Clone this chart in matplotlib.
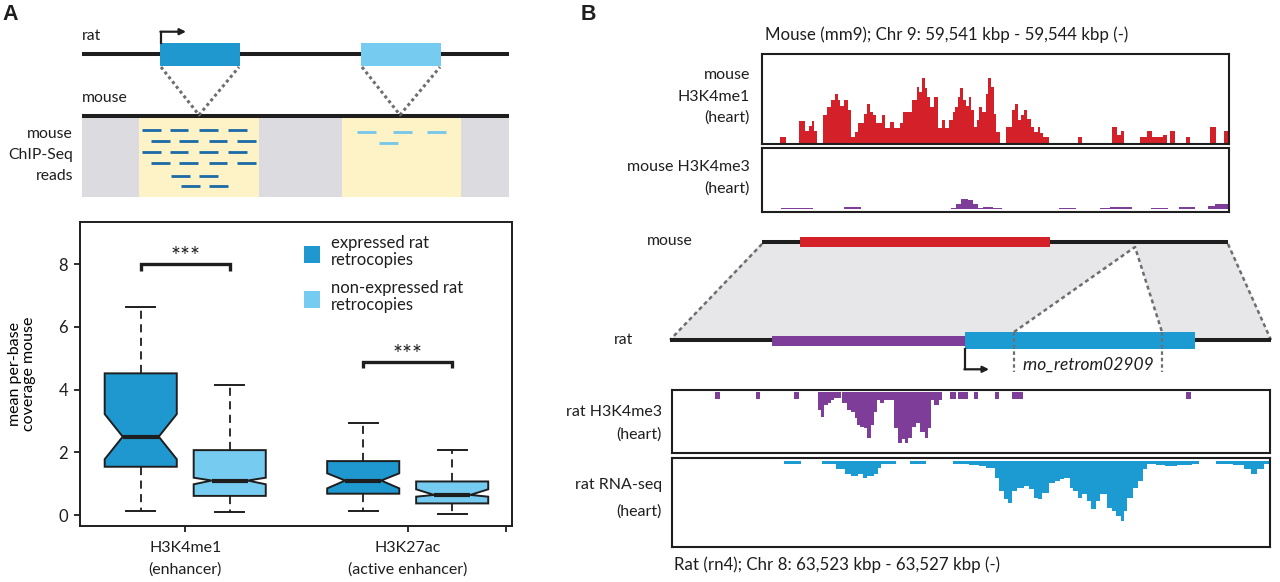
import matplotlib.pyplot as plt
from matplotlib.patches import Rectangle, Polygon

plt.rcParams['font.family'] = ['Lato', 'DejaVu Sans']
plt.rcParams['text.color'] = '#1e1e1e'

W, H = 1280, 582

# ---------- panel A: box plot values (mean per-base coverage mouse) ----------
tick_labels = ['H3K4me1\n(enhancer)', 'H3K27ac\n(active enhancer)']
legend_labels = ['expressed rat\nretrocopies', 'non-expressed rat\nretrocopies']
med = [2.50, 1.10, 1.10, 0.64]
q1 = [1.54, 0.61, 0.68, 0.37]
q3 = [4.52, 2.07, 1.72, 1.07]
whis_lo = [0.14, 0.085, 0.12, 0.04]
whis_hi = [6.65, 4.15, 2.95, 2.07]
ci_lo = [1.78, 0.98, 0.85, 0.585]
ci_hi = [3.22, 1.19, 1.33, 0.82]
signif = ['***', '***']

# ---------- panel A: cartoon (rat retrocopies / mouse ChIP-seq reads) ----------
retro_left = [160, 361]
read_rows_dark = [[142.3, 169.5, 198.9, 228.0],
                  [151.3, 179.2, 208.6, 237.3],
                  [142.3, 169.5, 198.9, 228.0],
                  [151.3, 179.2, 208.6, 237.3],
                  [171.3, 199.3],
                  [181.0, 209.0]]
read_rows_light = [[356.6, 392.5, 426.5],
                   [378.9]]

# ---------- panel B: coverage tracks (bp from window start) ----------
# mouse window 59,541-59,544 kbp, rat window 63,523-63,527 kbp
m_k4me1_edges = [115, 153, 236, 274, 302, 320, 337, 354, 389, 417, 446, 469, 487, 504, 527, 550,
                 573, 596, 619, 654, 677, 694, 711, 734, 769, 792, 821, 849, 884, 907, 936, 964,
                 993, 1011, 1028, 1045, 1062, 1080, 1108, 1131, 1154, 1178, 1201, 1224, 1241, 1258,
                 1275, 1293, 1310, 1327, 1345, 1362, 1379, 1396, 1414, 1437, 1454, 1471, 1488, 1506,
                 1529, 1569, 1604, 1627, 1644, 1667, 1684, 1701, 1725, 1748, 1771, 1788, 1805, 1845,
                 2030, 2058, 2246, 2280, 2303, 2323, 2427, 2476, 2505, 2577, 2600, 2620, 2654, 2721,
                 2749, 2879, 2916, 2971, 2994]
m_k4me1_vals = [1.8, 0, 6.8, 3.8, 5.2, 6.8, 3.8, 0, 8.5, 11, 13, 14.8, 13, 11.2, 13, 10,
                1.8, 3.5, 6, 9, 12, 9.5, 8.5, 6, 8.5, 4.5, 6.5, 4.5, 6, 9.5, 9.5, 13,
                17, 15.5, 19.8, 16.8, 14, 11, 14, 4.5, 7, 4.5, 7, 9.5, 11, 14,
                16.8, 13, 11.2, 14, 10, 5, 7, 11, 9.5, 15, 19.8, 17, 9, 3.5,
                0, 5, 10, 11.8, 7, 8.5, 10, 7.5, 5, 3.5, 5, 3, 1.8,
                0, 1.8, 0, 4.8, 2.5, 3.7, 0, 1.8, 3.7, 1.8, 2.5, 0, 3.7, 0,
                1.8, 0, 4.8, 0, 3.7]

m_k4me3_edges = [122, 328, 527, 636, 1214, 1246, 1278, 1323, 1355, 1388, 1420, 1484, 1542,
                 1908, 2017, 2171, 2236, 2377, 2499, 2608, 2679, 2782, 2865, 2910, 3000]
m_k4me3_vals = [1.8, 0, 2.4, 0, 1.8, 5, 10.5, 9.5, 5.0, 1.8, 2.0, 1.5,
                0, 1.5, 0, 1.8, 2.0, 0, 1.5, 0, 2.0, 0, 3.5, 5.0]

r_k4me3_edges = [285, 321, 561, 591, 816, 849, 975, 999, 1020, 1041, 1065, 1086, 1131, 1140,
                 1170, 1200, 1221, 1239, 1260, 1281, 1305, 1329, 1350, 1371, 1389, 1419, 1485,
                 1515, 1539, 1557, 1581, 1605, 1629, 1659, 1689, 1713, 1731, 1755, 1785, 1809,
                 1860, 1899, 1911, 1980, 2019, 2049, 2160, 2190, 2271, 2349, 3441, 3471]
r_k4me3_vals = [2.3, 0, 2.3, 0, 2.3, 0, 5.5, 7.7, 4.0, 3.5, 2.5, 2.0, 0,
                3.5, 5.5, 6.0, 8.0, 10.0, 10.5, 11.0, 14.0, 10.0, 6.0, 2.5, 3.5, 2.5,
                11.0, 15.5, 14.2, 15.5, 14.0, 10.5, 9.5, 12.0, 14.0, 11.0, 2.5, 4.0, 2.5,
                0, 2.3, 0, 2.3, 0, 2.3, 0, 2.3, 0, 2.3, 0, 2.3]

r_rna_edges = [750, 864, 1005, 1095, 1155, 1200, 1245, 1275, 1305, 1350, 1380, 1401, 1500,
               1590, 1701, 1881, 1989, 2055, 2100, 2160, 2190, 2220, 2250, 2274, 2310, 2355,
               2385, 2421, 2445, 2475, 2520, 2565, 2595, 2625, 2661, 2685, 2715, 2745, 2775,
               2805, 2835, 2865, 2910, 2940, 2970, 3000, 3021, 3045, 3081, 3120, 3150, 3180,
               3240, 3300, 3375, 3480, 3525, 3639, 3750, 3825, 3870, 3915, 3960, 3999]
r_rna_vals = [0.8, 0, 1.0, 2.5, 4.0, 4.5, 3.8, 5.0, 4.5, 4.0, 2.0, 0.8,
              0, 0.8, 0, 0.8, 1.2, 1.5, 2.0, 5.0, 9.0, 11.5, 12.5, 9.0, 8.0,
              7.5, 8.5, 11.0, 11.5, 9.5, 6.5, 6.0, 5.5, 5.0, 8.0, 9.0, 11.0, 10.0,
              12.0, 14.5, 12.0, 10.0, 14.0, 15.0, 16.5, 18.0, 15.0, 11.0, 8.0, 6.0, 2.5,
              1.0, 1.2, 1.5, 1.2, 0.8, 0, 0.8, 1.2, 2.5, 3.8, 2.5, 0.8]

DARK = '#1f97cf'
LIGHT = '#76cbf1'
RED = '#d42129'
PURPLE = '#7d3d99'
BLUE = '#1c9bd2'
INK = '#1e1e1e'
DASH = '#6e6e6e'

fig = plt.figure(figsize=(12.8, 5.82), dpi=100)


def px_axes(left, top, right, bottom):
    return fig.add_axes([left / W, 1 - bottom / H, (right - left) / W, (bottom - top) / H])


# full figure canvas for cartoons and labels (pixel units, y downwards)
canvas = fig.add_axes([0, 0, 1, 1])
canvas.set_xlim(0, W)
canvas.set_ylim(H, 0)
canvas.axis('off')

# ================= panel A cartoon =================
canvas.text(2, 15, 'A', fontsize=15.5, fontweight='bold', family='Liberation Sans', va='center')
canvas.text(82, 36, 'rat', fontsize=11.3, va='center')
canvas.text(82, 98, 'mouse', fontsize=11.3, va='center')

canvas.add_patch(Rectangle((82, 117), 427, 80, fc='#dcdce0', ec='none', zorder=1))
canvas.add_patch(Rectangle((139, 117), 120, 80, fc='#fdf3c6', ec='none', zorder=1.5))
canvas.add_patch(Rectangle((342, 117), 119, 80, fc='#fdf3c6', ec='none', zorder=1.5))

canvas.plot([82, 509], [54, 54], color=INK, lw=2.9, solid_capstyle='butt', zorder=2)
canvas.plot([82, 509], [116, 116], color=INK, lw=2.9, solid_capstyle='butt', zorder=2)
for x0, c in zip(retro_left, [DARK, LIGHT]):
    canvas.add_patch(Rectangle((x0, 43.3), 80, 22.4, fc=c, ec='none', zorder=3))
    mid = x0 + 39
    canvas.plot([x0 + 1, mid, x0 + 79], [67, 115, 67], color=DASH, lw=2.2,
                ls=(0, (1, 1)), zorder=2.5)

canvas.plot([161, 161], [43.3, 31.7], color=INK, lw=1.6, zorder=3)
canvas.annotate('', xy=(186, 31.7), xytext=(160.4, 31.7),
                arrowprops=dict(arrowstyle='-|>', color=INK, lw=1.6, mutation_scale=9,
                                shrinkA=0, shrinkB=0), zorder=3)

for y, row in zip([130, 140.7, 152.3, 163, 175.7, 186.3], read_rows_dark):
    for x0 in row:
        canvas.plot([x0, x0 + 18.6], [y, y], color='#1b6aa8', lw=2.0, solid_capstyle='butt', zorder=3)
for y, row in zip([132.3, 142.7], read_rows_light):
    for x0 in row:
        canvas.plot([x0, x0 + 19], [y, y], color='#74c6ea', lw=2.0, solid_capstyle='butt', zorder=3)

canvas.text(73, 134.3, 'mouse', fontsize=11.3, ha='right', va='center')
canvas.text(73, 155, 'ChIP-Seq', fontsize=11.3, ha='right', va='center')
canvas.text(73, 175.7, 'reads', fontsize=11.3, ha='right', va='center')

# ================= panel A box plot =================
ax = px_axes(79.6, 222, 512, 526)
stats = []
for i in range(4):
    stats.append(dict(med=med[i], q1=q1[i], q3=q3[i], whislo=whis_lo[i], whishi=whis_hi[i],
                      cilo=ci_lo[i], cihi=ci_hi[i], fliers=[]))
bp = ax.bxp(stats, positions=[1, 2, 3.5, 4.5], widths=0.81, shownotches=True, patch_artist=True,
            showfliers=False, capwidths=0.33,
            boxprops=dict(linewidth=1.4, edgecolor=INK),
            whiskerprops=dict(linewidth=1.3, color=INK, linestyle=(0, (4.5, 3))),
            capprops=dict(linewidth=1.4, color=INK),
            medianprops=dict(linewidth=3.0, color=INK, solid_capstyle='butt'))
for patch, c in zip(bp['boxes'], [DARK, LIGHT, DARK, LIGHT]):
    patch.set_facecolor(c)

ax.set_xlim(0.313, 5.172)
ax.set_ylim(-0.351, 9.35)
ax.set_yticks([0, 2, 4, 6, 8])
ax.set_xticks([1.5, 4.0, 5.1])
ax.set_xticklabels(tick_labels + [''], linespacing=1.6)
ax.tick_params(axis='y', labelsize=12, length=4.3, width=1.3, pad=4, colors=INK)
ax.tick_params(axis='x', labelsize=11.5, length=4.1, width=1.3, pad=7, colors=INK)
for s in ax.spines.values():
    s.set_linewidth(1.4)
    s.set_color(INK)
ax.set_ylabel('mean per-base\ncoverage mouse', fontsize=11.5, linespacing=0.95, va='center')
ax.yaxis.set_label_coords(-0.133, 0.5)

for (xa, xb), yb, yt, star in zip([(1, 2), (3.5, 4.5)], [8.0, 4.89], [8.25, 5.13], signif):
    ax.plot([xa, xa, xb, xb], [yb - 0.21, yb, yb, yb - 0.21], color=INK, lw=2.4,
            solid_joinstyle='miter', solid_capstyle='butt')
    ax.text((xa + xb) / 2, yt, star, fontsize=17, ha='center', va='center')

# legend
for ytop, c, lab in zip([8.59, 7.15], [DARK, LIGHT], legend_labels):
    ax.add_patch(Rectangle((2.84, ytop - 0.54), 0.18, 0.54, fc=c, ec='none'))
    ax.text(3.14, ytop - 0.19, lab, fontsize=12, linespacing=1.08, va='center')

# ================= panel B =================
canvas.text(581, 15, 'B', fontsize=15.5, fontweight='bold', family='Liberation Sans', va='center')
canvas.text(765, 35, 'Mouse (mm9); Chr 9: 59,541 kbp - 59,544 kbp (-)', fontsize=12.2, va='center')
canvas.text(674, 565, 'Rat (rn4); Chr 8: 63,523 kbp - 63,527 kbp (-)', fontsize=12.2, va='center')

track_labels = [(75, 'mouse'), (96.7, 'H3K4me1'), (117.3, '(heart)'),
                (167.3, 'mouse H3K4me3'), (188.3, '(heart)')]
for y, t in track_labels:
    canvas.text(750, y, t, fontsize=11.5, ha='right', va='center')
for y, t in [(412.3, 'rat H3K4me3'), (435, '(heart)'), (485, 'rat RNA-seq'), (511.7, '(heart)')]:
    canvas.text(662, y, t, fontsize=11.5, ha='right', va='center')


def track(axt, edges, vals, color, xmax, ylim):
    axt.stairs(vals, edges, fill=True, color=color, lw=0)
    axt.set_xlim(0, xmax)
    axt.set_ylim(*ylim)
    axt.set_xticks([])
    axt.set_yticks([])
    for s in axt.spines.values():
        s.set_linewidth(1.5)
        s.set_color(INK)
        s.set_zorder(5)


track(px_axes(762, 54.3, 1229, 144), m_k4me1_edges, m_k4me1_vals, RED, 3000, (-0.2, 26.9))
track(px_axes(762, 147.7, 1229, 211.7), m_k4me3_edges, m_k4me3_vals, PURPLE, 3000, (-2.4, 61.6))
track(px_axes(672, 390, 1270, 453.3), r_k4me3_edges, r_k4me3_vals, PURPLE, 4000, (18.5, -0.5))
track(px_axes(672, 458.3, 1270, 546.7), r_rna_edges, r_rna_vals, BLUE, 4000, (25.7, -0.8))

# synteny cartoon between mouse and rat
canvas.text(647, 241, 'mouse', fontsize=11.3, va='center')
canvas.text(614, 340, 'rat', fontsize=11.3, va='center')
canvas.add_patch(Polygon([(762, 242.3), (1228, 242.3), (1271, 340), (670, 340)],
                         closed=True, fc='#e7e7e9', ec='none', zorder=1))
canvas.add_patch(Polygon([(1135, 247), (1014, 332), (1162, 332)], closed=True,
                         fc='white', ec='none', zorder=1.5))
canvas.plot([762, 670], [244, 340], color=DASH, lw=1.8, ls=(0, (1.6, 1.3)), zorder=2)
canvas.plot([1228, 1271], [244, 340], color=DASH, lw=1.8, ls=(0, (1.6, 1.3)), zorder=2)
canvas.plot([1014, 1135, 1162], [332, 247, 332], color=DASH, lw=1.8, ls=(0, (1.6, 1.3)), zorder=2)

canvas.plot([762, 1228], [242.3, 242.3], color=INK, lw=2.9, solid_capstyle='butt', zorder=3)
canvas.plot([670, 1271], [340, 340], color=INK, lw=2.9, solid_capstyle='butt', zorder=3)
canvas.add_patch(Rectangle((800, 237.3), 250, 10, fc=RED, ec='none', zorder=4))
canvas.add_patch(Rectangle((772, 336), 193, 10, fc=PURPLE, ec='none', zorder=4))
canvas.add_patch(Rectangle((965, 332.3), 230, 17, fc=BLUE, ec='none', zorder=4))
for x in [1014, 1162]:
    canvas.plot([x, x], [332, 372], color=DASH, lw=1.6, ls=(0, (1.6, 1.3)), zorder=5)

canvas.plot([965, 965], [349, 369.3], color=INK, lw=1.6, zorder=4)
canvas.annotate('', xy=(989, 369.3), xytext=(964.4, 369.3),
                arrowprops=dict(arrowstyle='-|>', color=INK, lw=1.6, mutation_scale=9,
                                shrinkA=0, shrinkB=0), zorder=4)
canvas.text(1088, 365, 'rno_retrom02909', fontsize=12.5, style='italic', ha='center', va='center')

fig.savefig('out.png', dpi=100)
